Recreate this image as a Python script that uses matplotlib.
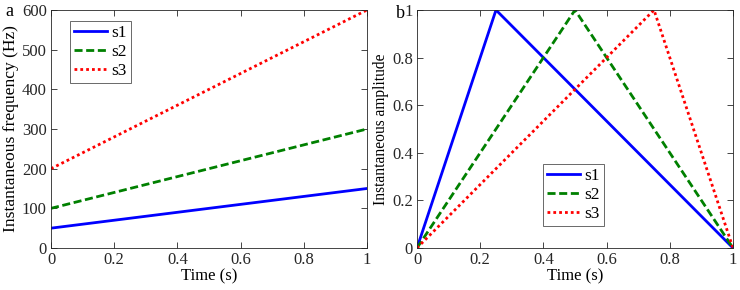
import matplotlib
matplotlib.use("Agg")
import matplotlib.pyplot as plt
import numpy as np

plt.rcParams['font.family'] = ['Liberation Serif', 'DejaVu Serif']
plt.rcParams['font.size'] = 11.5

t_freq = [0, 1]
freq_s1 = [50, 150]
freq_s2 = [100, 300]
freq_s3 = [200, 600]

t_s1 = [0, 0.25, 1]
amp_s1 = [0, 1, 0]
t_s2 = [0, 0.5, 1]
amp_s2 = [0, 1, 0]
t_s3 = [0, 0.75, 1]
amp_s3 = [0, 1, 0]

labels = ['s1', 's2', 's3']
colors = ['#0000ff', '#008000', '#ff0000']
styles = ['-', (0, (2.9, 1.3)), (0, (1, 1.1))]
lw = 2.0

fig = plt.figure(figsize=(7.4, 2.9), dpi=100)
W, H = 740, 290
axa = fig.add_axes([51/W, 1-248/H, (367-51)/W, (248-10)/H])
axb = fig.add_axes([417/W, 1-248/H, (733-417)/W, (248-10)/H])

for ax in (axa, axb):
    ax.tick_params(direction='in', top=True, right=True, length=4, width=0.6,
                   colors='#262626', pad=3, labelsize=12)
    for s in ax.spines.values():
        s.set_color('#262626')
        s.set_linewidth(0.6)

legkw = dict(frameon=True, fancybox=False, edgecolor='#262626', handlelength=1.9,
             borderpad=0.25, labelspacing=0.15, handletextpad=0.2, borderaxespad=0,
             fontsize=12.5)

for y, lab, c, ls in zip([freq_s1, freq_s2, freq_s3], labels, colors, styles):
    axa.plot(t_freq, y, color=c, linestyle=ls, lw=lw, label=lab)
axa.set_xlim(0, 1)
axa.set_ylim(0, 600)
axa.set_xticks([0, 0.2, 0.4, 0.6, 0.8, 1])
axa.set_xticklabels(['0', '0.2', '0.4', '0.6', '0.8', '1'])
axa.set_yticks([0, 100, 200, 300, 400, 500, 600])
axa.set_xlabel('Time (s)', labelpad=0, fontsize=12)
axa.set_ylabel('Instantaneous frequency (Hz)', labelpad=2, fontsize=12.6)
leg = axa.legend(loc='upper left', bbox_to_anchor=((70-51)/316, (248-21)/238), **legkw)
leg.get_frame().set_linewidth(0.6)
fig.text(5/W, 1-11/H, 'a', fontsize=13, va='center', ha='left')

for x, y, lab, c, ls in zip([t_s1, t_s2, t_s3], [amp_s1, amp_s2, amp_s3], labels, colors, styles):
    axb.plot(x, y, color=c, linestyle=ls, lw=lw, label=lab)
axb.set_xlim(0, 1)
axb.set_ylim(0, 1)
axb.set_xticks([0, 0.2, 0.4, 0.6, 0.8, 1])
axb.set_xticklabels(['0', '0.2', '0.4', '0.6', '0.8', '1'])
axb.set_yticks([0, 0.2, 0.4, 0.6, 0.8, 1])
axb.set_yticklabels(['0', '0.2', '0.4', '0.6', '0.8', '1'])
axb.set_xlabel('Time (s)', labelpad=0, fontsize=12)
axb.set_ylabel('Instantaneous amplitude', labelpad=2, fontsize=11.2)
leg = axb.legend(loc='upper left', bbox_to_anchor=((543-417)/316, (248-164)/238), **legkw)
leg.get_frame().set_linewidth(0.6)
fig.text(396/W, 1-14/H, 'b', fontsize=13, va='center', ha='left')

fig.savefig('out.png', dpi=100)
